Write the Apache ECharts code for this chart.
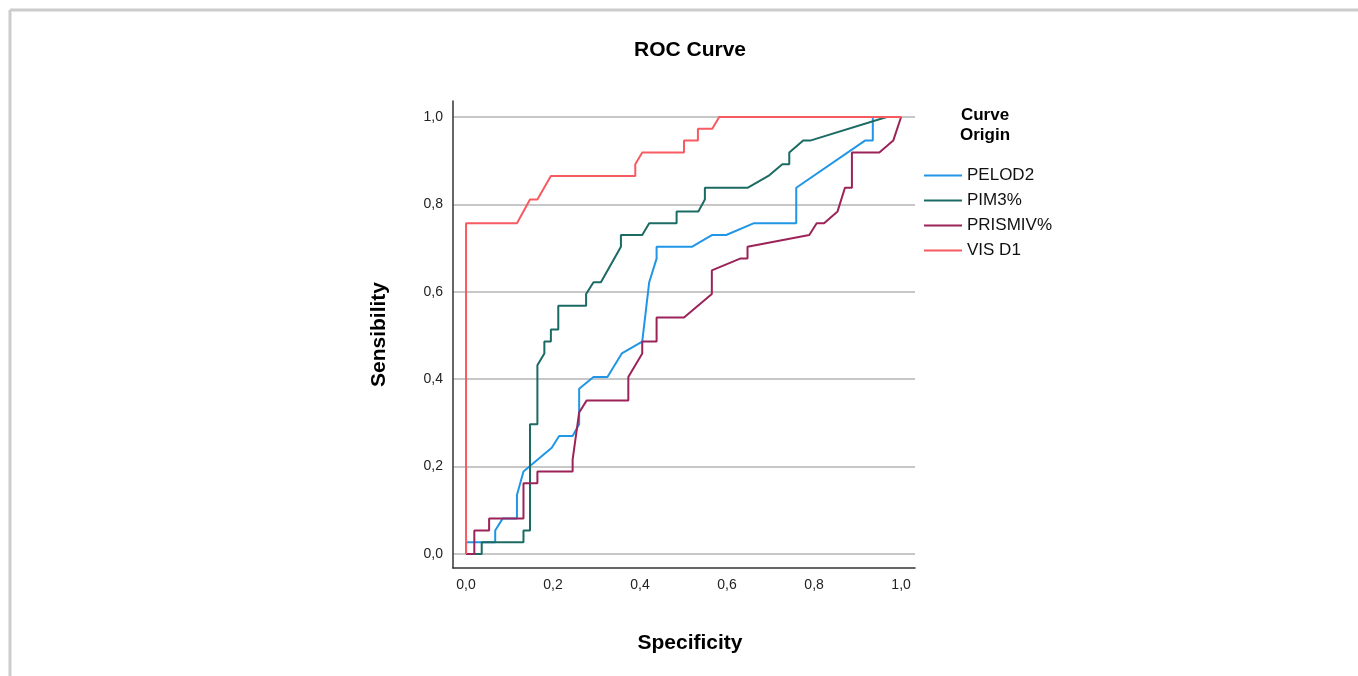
<!DOCTYPE html>
<html>
<head>
<meta charset="utf-8">
<title>ROC Curve</title>
<script src="https://cdn.jsdelivr.net/npm/echarts@6/dist/echarts.min.js"></script>
<style>
  html, body { margin: 0; padding: 0; background: #fff; }
  #main { width: 1358px; height: 676px; }
</style>
</head>
<body>
<div id="main"></div>
<script>
// curve points (x = specificity axis, y = sensibility)
const pelodX = [0, 0, 0.067, 0.067, 0.084, 0.117, 0.117, 0.132, 0.197, 0.214, 0.245, 0.260, 0.260, 0.293, 0.325, 0.358, 0.405, 0.421, 0.438, 0.438, 0.519, 0.566, 0.598, 0.662, 0.759, 0.759, 0.917, 0.935, 0.935, 1.0]
const pelodY = [0, 0.027, 0.027, 0.054, 0.081, 0.081, 0.135, 0.189, 0.243, 0.270, 0.270, 0.297, 0.378, 0.405, 0.405, 0.459, 0.486, 0.622, 0.676, 0.703, 0.703, 0.730, 0.730, 0.757, 0.757, 0.838, 0.946, 0.946, 1.0, 1.0]

const pimX = [0, 0.036, 0.036, 0.132, 0.132, 0.147, 0.147, 0.164, 0.164, 0.180, 0.180, 0.195, 0.195, 0.212, 0.212, 0.276, 0.276, 0.293, 0.310, 0.356, 0.356, 0.405, 0.421, 0.484, 0.484, 0.534, 0.549, 0.549, 0.647, 0.695, 0.727, 0.743, 0.743, 0.775, 0.791, 0.967, 1.0]
const pimY = [0, 0, 0.027, 0.027, 0.054, 0.054, 0.297, 0.297, 0.432, 0.459, 0.486, 0.486, 0.514, 0.514, 0.568, 0.568, 0.595, 0.622, 0.622, 0.703, 0.730, 0.730, 0.757, 0.757, 0.784, 0.784, 0.811, 0.838, 0.838, 0.865, 0.892, 0.892, 0.919, 0.946, 0.946, 1.0, 1.0]

const prismX = [0, 0.019, 0.019, 0.053, 0.053, 0.132, 0.132, 0.164, 0.164, 0.245, 0.245, 0.260, 0.277, 0.373, 0.373, 0.405, 0.405, 0.438, 0.438, 0.501, 0.565, 0.565, 0.630, 0.647, 0.647, 0.789, 0.806, 0.823, 0.854, 0.871, 0.887, 0.887, 0.950, 0.982, 1.0]
const prismY = [0, 0, 0.054, 0.054, 0.081, 0.081, 0.162, 0.162, 0.189, 0.189, 0.216, 0.324, 0.351, 0.351, 0.405, 0.459, 0.486, 0.486, 0.541, 0.541, 0.595, 0.649, 0.676, 0.676, 0.703, 0.730, 0.757, 0.757, 0.784, 0.838, 0.838, 0.919, 0.919, 0.946, 1.0]

const visX = [0, 0, 0.117, 0.147, 0.164, 0.195, 0.389, 0.389, 0.405, 0.501, 0.501, 0.533, 0.533, 0.566, 0.582, 1.0]
const visY = [0, 0.757, 0.757, 0.811, 0.811, 0.865, 0.865, 0.892, 0.919, 0.919, 0.946, 0.946, 0.973, 0.973, 1.0, 1.0]

const seriesNames = ['PELOD2', 'PIM3%', 'PRISMIV%', 'VIS D1']
const tickValues = [0, 0.2, 0.4, 0.6, 0.8, 1.0]

const zip = (xs, ys) => xs.map((x, i) => [x, ys[i]])
const fmt = v => v.toFixed(1).replace('.', ',')
const font = 'Liberation Sans, Arial, sans-serif'

const myChart = echarts.init(document.getElementById('main'))
const makeSeries = (name, data, color) => ({
  name: name,
  type: 'line',
  data: data,
  symbol: 'none',
  lineStyle: { color: color, width: 2 },
  itemStyle: { color: color },
  emphasis: { disabled: true }
})

const option = {
  animation: false,
  textStyle: { fontFamily: font },
  title: [
    {
      text: 'ROC Curve',
      left: 685,
      top: 35,
      textAlign: 'center',
      textStyle: { fontSize: 21, fontWeight: 'bold', color: '#000', fontFamily: font }
    },
    {
      text: 'Curve\nOrigin',
      left: 980,
      top: 100,
      textAlign: 'center',
      textStyle: { fontSize: 17, fontWeight: 'bold', color: '#000', lineHeight: 20, fontFamily: font }
    }
  ],
  legend: {
    orient: 'vertical',
    left: 924,
    top: 167,
    padding: 0,
    itemWidth: 38,
    itemHeight: 2,
    itemGap: 8,
    icon: 'rect',
    data: seriesNames,
    textStyle: { fontSize: 17, color: '#111', fontFamily: font }
  },
  grid: { left: 453, right: 443, top: 101, bottom: 108 },
  xAxis: {
    type: 'value',
    min: -0.03,
    max: 1.032,
    name: 'Specificity',
    nameLocation: 'middle',
    nameGap: 65,
    nameTextStyle: { fontSize: 21, fontWeight: 'bold', color: '#000', fontFamily: font, padding: [0, 0, 0, 12] },
    axisLine: { onZero: false, lineStyle: { color: '#333', width: 1.5 } },
    axisTick: { show: false, customValues: tickValues },
    axisLabel: { customValues: tickValues, formatter: fmt, color: '#222', fontSize: 14, margin: 10 },
    splitLine: { show: false }
  },
  yAxis: {
    type: 'value',
    min: -0.032,
    max: 1.0366,
    name: 'Sensibility',
    nameLocation: 'middle',
    nameGap: 63,
    nameTextStyle: { fontSize: 21, fontWeight: 'bold', color: '#000', fontFamily: font },
    axisLine: { show: true, onZero: false, lineStyle: { color: '#333', width: 1.5 } },
    axisTick: { show: false, customValues: tickValues },
    axisLabel: { customValues: tickValues, formatter: fmt, color: '#222', fontSize: 14, margin: 10 },
    splitLine: { show: true, lineStyle: { color: '#b5b5b5', width: 1.5 } }
  },
  graphic: [
    { type: 'line', shape: { x1: 10, y1: 10, x2: 1358, y2: 10 }, style: { stroke: '#cccccc', lineWidth: 3 } },
    { type: 'line', shape: { x1: 10, y1: 10, x2: 10, y2: 676 }, style: { stroke: '#cccccc', lineWidth: 3 } }
  ],
  series: [
    makeSeries(seriesNames[0], zip(pelodX, pelodY), '#2196e6'),
    makeSeries(seriesNames[1], zip(pimX, pimY), '#1b6a63'),
    makeSeries(seriesNames[2], zip(prismX, prismY), '#9c2359'),
    makeSeries(seriesNames[3], zip(visX, visY), '#f75a61')
  ]
}
myChart.setOption(option)
</script>
</body>
</html>
